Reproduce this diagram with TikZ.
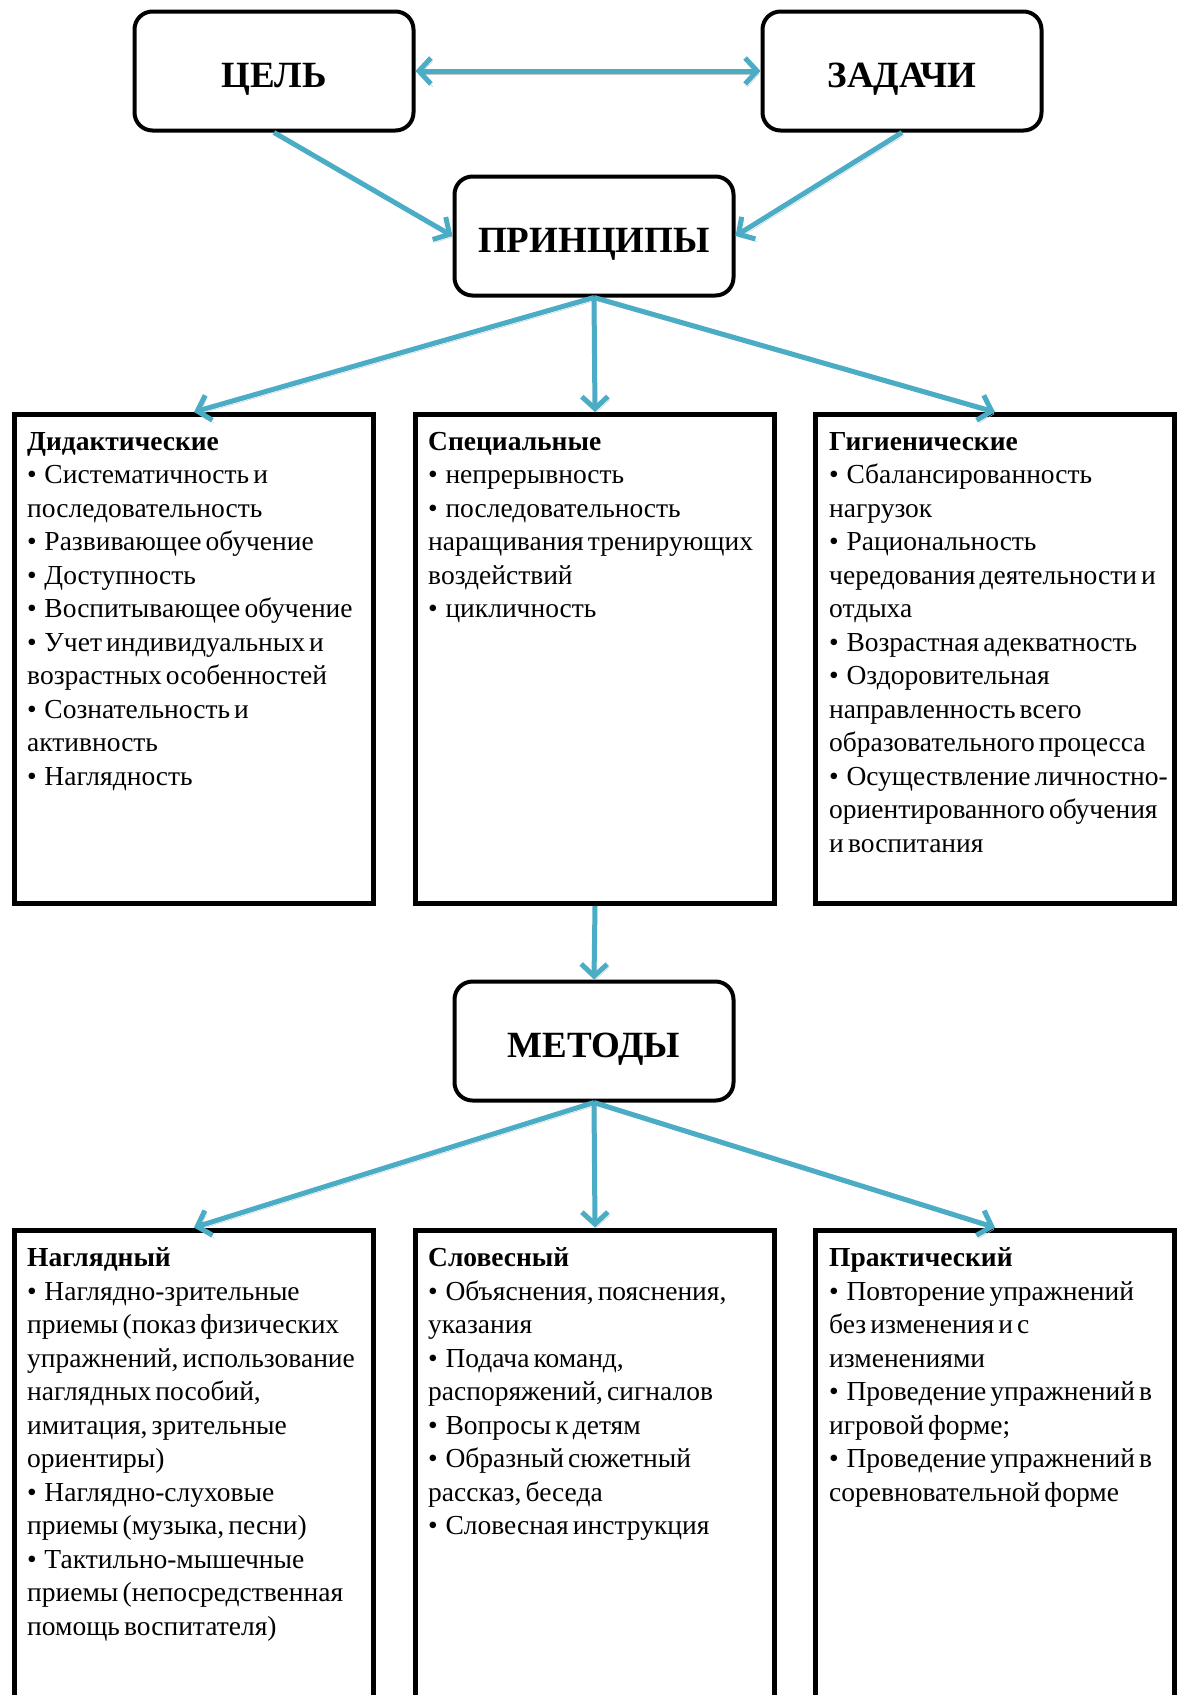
\documentclass[tikz,border=0pt]{standalone}
\usepackage{fontspec}
\setmainfont{Liberation Serif}[WordSpace=0.6]
\usetikzlibrary{arrows.meta}
\definecolor{arrowblue}{HTML}{4BACC6}
\newcommand\itm{•\hspace{0.28em}}
\begin{document}
\begin{tikzpicture}[x=1pt,y=-1pt,
  headbox/.style={draw=black, line width=4pt, rounded corners=18pt, minimum width=279pt, minimum height=119pt, inner sep=0pt, text height=32pt, text depth=0pt, font=\fontsize{37}{42}\selectfont\bfseries},
  listbox/.style={draw=black, line width=5pt, minimum width=359pt, inner sep=0pt},
  listtext/.style={anchor=north west, align=left, inner sep=0pt, font=\fontsize{27.5}{33.5}\selectfont},
  barb/.tip={Straight Barb[length=12pt,width=26pt]},
  conn/.style={draw=arrowblue, line width=5pt, -barb,
    preaction={draw=black!22, transform canvas={shift={(2pt,-3pt)}}}},
]
\useasboundingbox (0,0) rectangle (1177,1695);
\clip (0,0) rectangle (1177,1695);

% heading boxes
\node[headbox] (cel) at (274,71) {ЦЕЛЬ};
\node[headbox] (zad) at (902,71) {ЗАДАЧИ};
\node[headbox] (pr) at (594,236) {ПРИНЦИПЫ};
\node[headbox] (met) at (594,1041) {МЕТОДЫ};

% principle boxes
\node[listbox, minimum height=489pt] (did) at (194,659) {};
\node[listbox, minimum height=489pt] (spe) at (595,659) {};
\node[listbox, minimum height=489pt] (gig) at (995,659) {};

% method boxes
\node[listbox, minimum height=530pt] (nag) at (194,1495) {};
\node[listbox, minimum height=530pt] (slo) at (595,1495) {};
\node[listbox, minimum height=530pt] (pra) at (995,1495) {};

% texts
\node[listtext] (didt) at ([xshift=15pt,yshift=-20pt]did.north west) {\textbf{Дидактические}\\
\itm Систематичность и\\
последовательность\\
\itm Развивающее обучение\\
\itm Доступность\\
\itm Воспитывающее обучение\\
\itm Учет индивидуальных и\\
возрастных особенностей\\
\itm Сознательность и\\
активность\\
\itm Наглядность};

\node[listtext] (spet) at ([xshift=15pt,yshift=-20pt]spe.north west) {\textbf{Специальные}\\
\itm непрерывность\\
\itm последовательность\\
наращивания тренирующих\\
воздействий\\
\itm цикличность};

\node[listtext] (gigt) at ([xshift=16pt,yshift=-20pt]gig.north west) {\textbf{Гигиенические}\\
\itm Сбалансированность\\
нагрузок\\
\itm Рациональность\\
чередования деятельности и\\
отдыха\\
\itm Возрастная адекватность\\
\itm Оздоровительная\\
направленность всего\\
образовательного процесса\\
\itm Осуществление личностно-\\
ориентированного обучения\\
и воспитания};

\node[listtext] (nagt) at ([xshift=15pt,yshift=-20pt]nag.north west) {\textbf{Наглядный}\\
\itm Наглядно-зрительные\\
приемы (показ физических\\
упражнений, использование\\
наглядных пособий,\\
имитация, зрительные\\
ориентиры)\\
\itm Наглядно-слуховые\\
приемы (музыка, песни)\\
\itm Тактильно-мышечные\\
приемы (непосредственная\\
помощь воспитателя)};

\node[listtext] (slot) at ([xshift=15pt,yshift=-20pt]slo.north west) {\textbf{Словесный}\\
\itm Объяснения, пояснения,\\
указания\\
\itm Подача команд,\\
распоряжений, сигналов\\
\itm Вопросы к детям\\
\itm Образный сюжетный\\
рассказ, беседа\\
\itm Словесная инструкция};

\node[listtext] (prat) at ([xshift=16pt,yshift=-20pt]pra.north west) {\textbf{Практический}\\
\itm Повторение упражнений\\
без изменения и с\\
изменениями\\
\itm Проведение упражнений в\\
игровой форме;\\
\itm Проведение упражнений в\\
соревновательной форме};

% connectors
\draw[conn, barb-barb] (cel.east) -- (zad.west);
\draw[conn] (cel.south) -- (pr.west);
\draw[conn] (zad.south) -- (pr.east);
\draw[conn] (pr.south) -- (did.north);
\draw[conn] (pr.south) -- (spe.north);
\draw[conn] (pr.south) -- (gig.north);
\draw[conn] (spe.south) -- (met.north);
\draw[conn] (met.south) -- (nag.north);
\draw[conn] (met.south) -- (slo.north);
\draw[conn] (met.south) -- (pra.north);
\end{tikzpicture}
\end{document}
